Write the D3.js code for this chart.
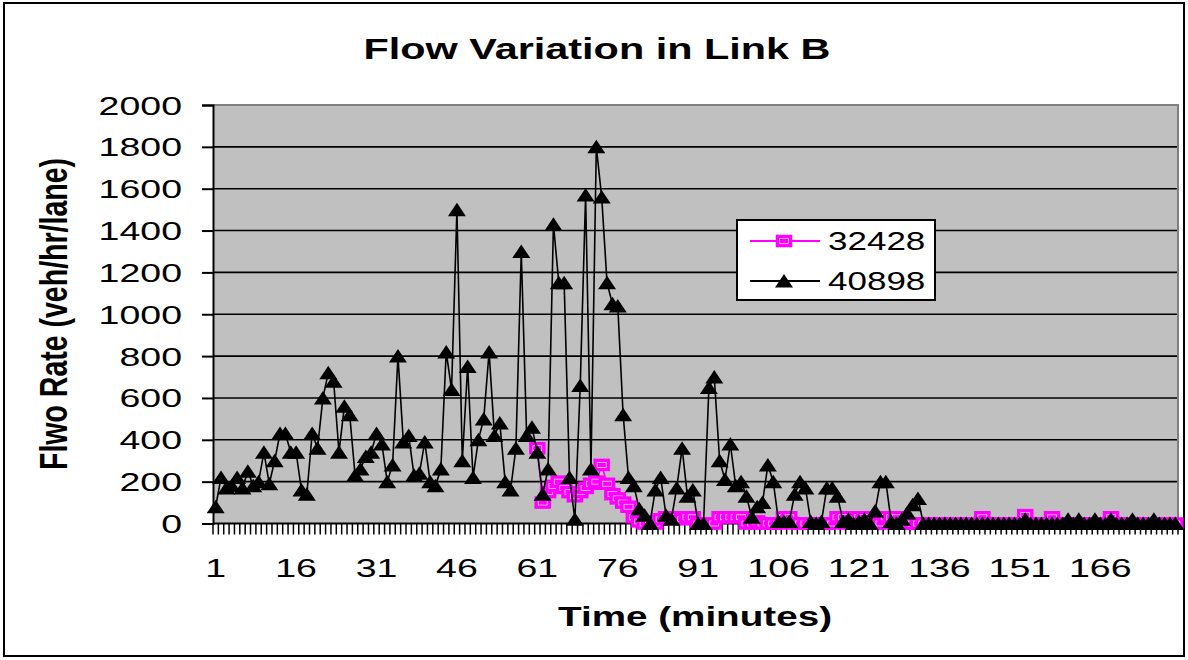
<!DOCTYPE html>
<html>
<head>
<meta charset="utf-8">
<script src="https://cdn.jsdelivr.net/npm/d3@7"></script>
<style>
  body { margin: 0; background: #fff; }
  svg { display: block; }
  text { font-family: "Liberation Sans", Arial, sans-serif; }
</style>
</head>
<body>
<div id="chart"></div>
<script>
// categories (minutes)
const minutes = d3.range(1, 181);

// series 40898 (black triangles)
const flow40898 = [
  80, 220, 170, 180, 220, 170, 250, 180, 200, 340, 190, 300, 430, 430, 340,
  340, 160, 140, 430, 360, 600, 720, 680, 340, 560, 520, 230, 260, 320, 340,
  430, 380, 200, 280, 800, 390, 420, 230, 240, 390, 200, 180, 260, 820, 640,
  1500, 300, 750, 220, 400, 500, 820, 420, 480, 200, 160, 360, 1300, 420, 460,
  340, 140, 260, 1430, 1150, 1150, 220, 20, 660, 1570, 260, 1800, 1560, 1150, 1050,
  1040, 520, 220, 180, 70, 40, 0, 160, 220, 40, 20, 170, 360, 130, 160,
  0, 0, 650, 700, 300, 210, 380, 180, 200, 130, 30, 80, 100, 280, 200,
  10, 10, 10, 140, 200, 170, 10, 0, 10, 170, 170, 130, 10, 20, 0,
  10, 20, 0, 60, 200, 200, 10, 0, 20, 50, 90, 120, 0, 0, 0,
  0, 0, 0, 0, 0, 0, 0, 0, 0, 0, 0, 0, 0, 0, 0,
  0, 20, 0, 0, 0, 0, 0, 0, 0, 20, 0, 20, 0, 0, 20,
  0, 0, 20, 0, 0, 0, 20, 0, 0, 0, 20, 0, 0, 0, 0
];

// series 32428 (magenta squares), no data before minute 61
const flow32428 = [
  null, null, null, null, null, null, null, null, null, null, null, null, null, null, null,
  null, null, null, null, null, null, null, null, null, null, null, null, null, null, null,
  null, null, null, null, null, null, null, null, null, null, null, null, null, null, null,
  null, null, null, null, null, null, null, null, null, null, null, null, null, null, null,
  360, 100, 150, 180, 200, 170, 150, 130, 150, 170, 190, 200, 280, 190, 140,
  120, 100, 80, 30, 10, 0, 10, 0, 20, 30, 30, 30, 20, 30, 30,
  0, 0, 0, 0, 30, 30, 30, 30, 30, 0, 0, 10, 0, 0, 0,
  0, 30, 30, 0, 0, 0, 0, 0, 0, 0, 0, 30, 30, 0, 0,
  30, 30, 0, 0, 0, 30, 30, 30, 0, 0, 0, 0, 0, 0, 0,
  0, 0, 0, 0, 0, 0, 0, 0, 30, 0, 0, 0, 0, 0, 0,
  0, 40, 0, 0, 0, 0, 30, 0, 0, 0, 0, 0, 0, 0, 0,
  0, 0, 30, 0, 0, 0, 0, 0, 0, 0, 0, 0, 0, 0, 0
];

const yTicks = [0, 200, 400, 600, 800, 1000, 1200, 1400, 1600, 1800, 2000];
const xTickLabels = [1, 16, 31, 46, 61, 76, 91, 106, 121, 136, 151, 166];
const seriesNames = ["32428", "40898"];

const W = 1188, H = 660;
const plot = { left: 213, right: 1178, top: 105, bottom: 523.5 };
const stretch = 1.5; // text in the picture is drawn wide

const svg = d3.select("#chart").append("svg")
  .attr("width", W)
  .attr("height", H);

// outer border
svg.append("rect")
  .attr("x", 4).attr("y", 3)
  .attr("width", 1180).attr("height", 653)
  .attr("fill", "#fff")
  .attr("stroke", "#000")
  .attr("stroke-width", 2);

const x = d3.scaleBand().domain(minutes).range([plot.left, plot.right]);
const cx = d => x(d) + x.bandwidth() / 2;
const y = d3.scaleLinear().domain([0, 2000]).range([plot.bottom, plot.top]);

// plot area
svg.append("rect")
  .attr("x", plot.left).attr("y", plot.top)
  .attr("width", plot.right - plot.left)
  .attr("height", plot.bottom - plot.top)
  .attr("fill", "#c0c0c0");

// gridlines
svg.append("g").selectAll("line")
  .data(yTicks.filter(v => v > 0 && v < 2000))
  .join("line")
  .attr("x1", plot.left).attr("x2", plot.right)
  .attr("y1", d => y(d)).attr("y2", d => y(d))
  .attr("stroke", "#000")
  .attr("stroke-width", 1.6);

// top and right border of plot area
svg.append("path")
  .attr("d", `M${plot.left},${plot.top}H${plot.right}V${plot.bottom}`)
  .attr("fill", "none")
  .attr("stroke", "#808080")
  .attr("stroke-width", 2);

// y axis
const yAxis = svg.append("g")
  .attr("transform", `translate(${plot.left},0)`)
  .call(d3.axisLeft(y).tickValues(yTicks).tickSize(11).tickPadding(20).tickFormat(d3.format("d")));
yAxis.attr("font-size", 25).attr("font-family", null);
yAxis.select(".domain").attr("stroke-width", 2);
yAxis.selectAll(".tick line").attr("stroke-width", 2);
yAxis.selectAll(".tick text").each(function () {
  const t = d3.select(this);
  const tx = +t.attr("x");
  t.attr("x", 0).attr("dy", "0.36em")
    .attr("transform", `translate(${tx},0) scale(${stretch},1)`);
});

// x axis: line, one tick per category boundary, labels every 15
const xAxis = svg.append("g");
xAxis.append("line")
  .attr("x1", plot.left).attr("x2", plot.right)
  .attr("y1", plot.bottom).attr("y2", plot.bottom)
  .attr("stroke", "#000").attr("stroke-width", 2);
xAxis.selectAll(".xt")
  .data(minutes.map(m => x(m)).concat([plot.right]))
  .join("line")
  .attr("class", "xt")
  .attr("x1", d => d).attr("x2", d => d)
  .attr("y1", plot.bottom).attr("y2", plot.bottom + 11)
  .attr("stroke", "#000").attr("stroke-width", 1.5);
xAxis.selectAll("text")
  .data(xTickLabels)
  .join("text")
  .attr("transform", d => `translate(${cx(d)},577) scale(${stretch},1)`)
  .attr("text-anchor", "middle")
  .attr("font-size", 25)
  .text(d => d);

// lines
const line = d3.line()
  .defined(d => d.v !== null)
  .x(d => cx(d.m))
  .y(d => y(d.v));

const pinkData = minutes.map((m, i) => ({ m, v: flow32428[i] }));
const blackData = minutes.map((m, i) => ({ m, v: flow40898[i] }));

const triangle = "M0,-7L9,6.5L-9,6.5Z";

// square marker: magenta with a thin light inner frame
function square(g, px, py) {
  g.append("rect")
    .attr("x", px - 7.5).attr("y", py - 5.5)
    .attr("width", 15).attr("height", 11)
    .attr("fill", "#ff00ff")
    .attr("stroke", "#ff00ff").attr("stroke-width", 1.5);
  g.append("rect")
    .attr("x", px - 4.5).attr("y", py - 2.5)
    .attr("width", 9).attr("height", 5)
    .attr("fill", "none")
    .attr("stroke", "#ffd0ff").attr("stroke-width", 0.8);
}

svg.append("path")
  .datum(pinkData)
  .attr("d", line)
  .attr("fill", "none")
  .attr("stroke", "#ff00ff")
  .attr("stroke-width", 1.6);

const pinkMarks = svg.append("g");
pinkData.filter(d => d.v !== null).forEach(d => square(pinkMarks, cx(d.m), y(d.v)));

svg.append("path")
  .datum(blackData)
  .attr("d", line)
  .attr("fill", "none")
  .attr("stroke", "#000")
  .attr("stroke-width", 1.6);

svg.append("g").selectAll("path")
  .data(blackData)
  .join("path")
  .attr("d", triangle)
  .attr("transform", d => `translate(${cx(d.m)},${y(d.v)})`)
  .attr("fill", "#000");

// legend
const legend = svg.append("g");
legend.append("rect")
  .attr("x", 737).attr("y", 220)
  .attr("width", 198).attr("height", 80)
  .attr("fill", "#fff")
  .attr("stroke", "#000")
  .attr("stroke-width", 2);

const legY = [241, 281];
legend.append("line")
  .attr("x1", 750).attr("x2", 820).attr("y1", legY[0]).attr("y2", legY[0])
  .attr("stroke", "#ff00ff").attr("stroke-width", 2);
square(legend, 784, legY[0]);
legend.append("line")
  .attr("x1", 750).attr("x2", 820).attr("y1", legY[1]).attr("y2", legY[1])
  .attr("stroke", "#000").attr("stroke-width", 2);
legend.append("path")
  .attr("d", triangle)
  .attr("transform", `translate(784,${legY[1]})`)
  .attr("fill", "#000");
legend.selectAll("text")
  .data(seriesNames)
  .join("text")
  .attr("transform", (d, i) => `translate(828,${legY[i] + 9}) scale(1.4,1)`)
  .attr("font-size", 25)
  .text(d => d);

// titles
svg.append("text")
  .attr("x", 597).attr("y", 59)
  .attr("text-anchor", "middle")
  .attr("font-size", 30)
  .attr("font-weight", "bold")
  .attr("textLength", 467)
  .attr("lengthAdjust", "spacingAndGlyphs")
  .text("Flow Variation in Link B");

svg.append("text")
  .attr("x", 695).attr("y", 626)
  .attr("text-anchor", "middle")
  .attr("font-size", 28)
  .attr("font-weight", "bold")
  .attr("textLength", 274)
  .attr("lengthAdjust", "spacingAndGlyphs")
  .text("Time (minutes)");

svg.append("text")
  .attr("transform", `translate(67,314) scale(${stretch},1) rotate(-90)`)
  .attr("text-anchor", "middle")
  .attr("font-size", 26)
  .attr("font-weight", "bold")
  .attr("textLength", 312)
  .attr("lengthAdjust", "spacingAndGlyphs")
  .text("Flwo Rate (veh/hr/lane)");
</script>
</body>
</html>
